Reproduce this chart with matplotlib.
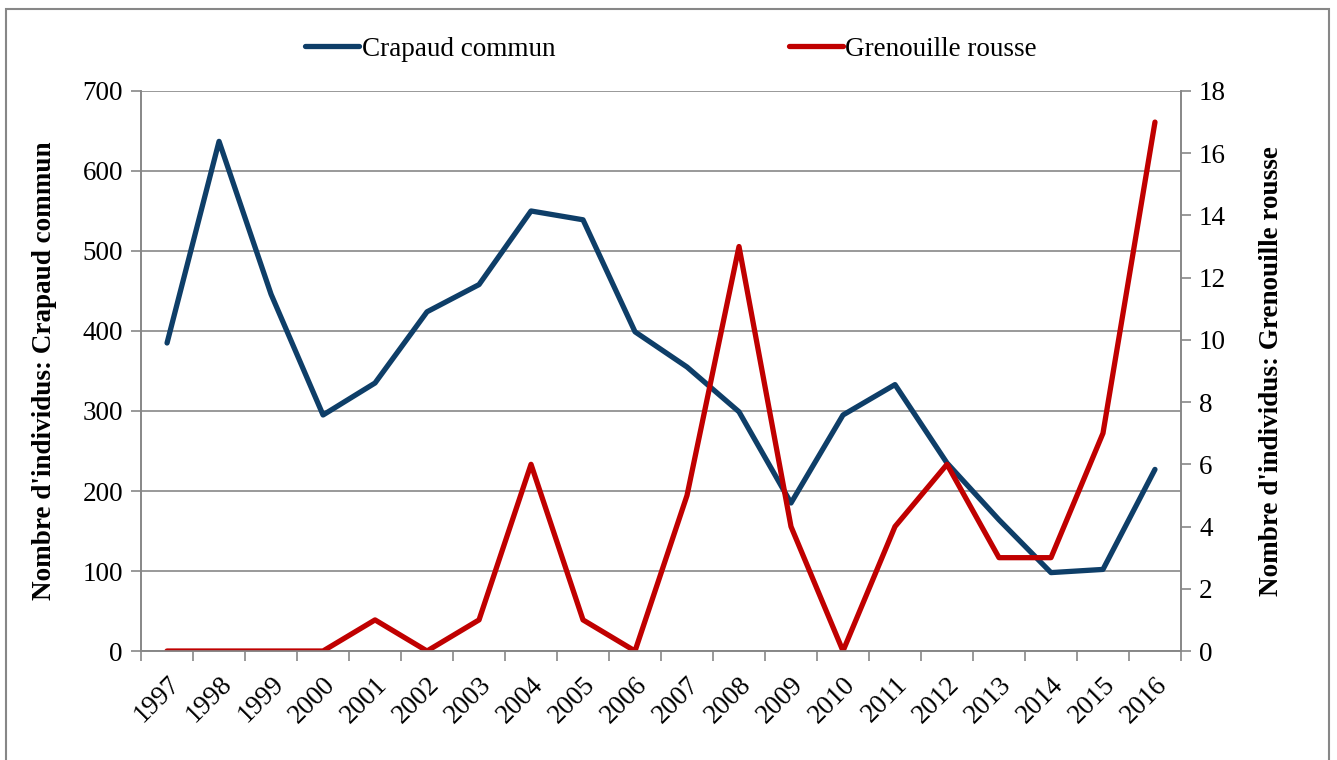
import matplotlib
matplotlib.use("agg")
import matplotlib.pyplot as plt
from matplotlib.patches import Rectangle
import numpy as np

years = [str(y) for y in range(1997, 2017)]
crapaud = [385, 637, 446, 295, 335, 424, 458, 550, 539, 399,
           355, 299, 185, 295, 333, 235, 164, 98, 102, 227]
grenouille = [0, 0, 0, 0, 1, 0, 1, 6, 1, 0,
              5, 13, 4, 0, 4, 6, 3, 3, 7, 17]

plt.rcParams["font.family"] = ["Liberation Serif", "DejaVu Serif"]
grey = "#878787"
blue = "#0E3E68"
red = "#C00000"
fs = 19.5

fig = plt.figure(figsize=(13.37, 7.6), dpi=100)
ax = fig.add_axes([0.1055, 0.1434, 0.7778, 0.7369])
ax2 = ax.twinx()

x = np.arange(len(years))
l1, = ax.plot(x, crapaud, color=blue, lw=3.8, solid_capstyle="round", label="Crapaud commun")
l2, = ax2.plot(x, grenouille, color=red, lw=3.8, solid_capstyle="round", label="Grenouille rousse")

ax.set_xlim(-0.5, len(years) - 0.5)
ax.set_ylim(0, 700)
ax.set_yticks(range(0, 701, 100))
ax2.set_ylim(0, 18)
ax2.set_yticks(range(0, 19, 2))

ax.set_xticks(x)
ax.set_xticklabels(years, rotation=45, ha="right", rotation_mode="anchor")
ax.set_xticks(np.arange(-0.5, len(years)), minor=True)
ax.tick_params(axis="x", which="major", length=0, pad=15, labelsize=fs)
ax.tick_params(axis="x", which="minor", length=7, color=grey, width=1.2)
ax.tick_params(axis="y", length=7, color=grey, width=1.2, labelsize=fs, pad=6)
ax2.tick_params(axis="y", length=7, color=grey, width=1.2, labelsize=fs, pad=6)

ax.grid(axis="y", color=grey, lw=1.2)
ax.set_axisbelow(True)
for a in (ax, ax2):
    a.spines["top"].set_visible(False)
    for s in ("left", "right", "bottom"):
        a.spines[s].set_color(grey)
        a.spines[s].set_linewidth(1.2)

ax.set_ylabel("Nombre d'individus: Crapaud commun", fontsize=fs, fontweight="bold", labelpad=18)
ax2.set_ylabel("Nombre d'individus: Grenouille rousse", fontsize=fs, fontweight="bold", labelpad=24)

fig.legend(handles=[l1, l2], loc="center", bbox_to_anchor=(0.502, 0.935), ncol=2,
           frameon=False, fontsize=fs, handlelength=2.0, handletextpad=0.1, columnspacing=8.6)

fig.patches.append(Rectangle((6 / 1337, -0.02), 1323 / 1337, 1 - 9 / 760 + 0.02,
                             transform=fig.transFigure, fill=False, edgecolor=grey, lw=1.5))

fig.savefig("out.png", dpi=100)
